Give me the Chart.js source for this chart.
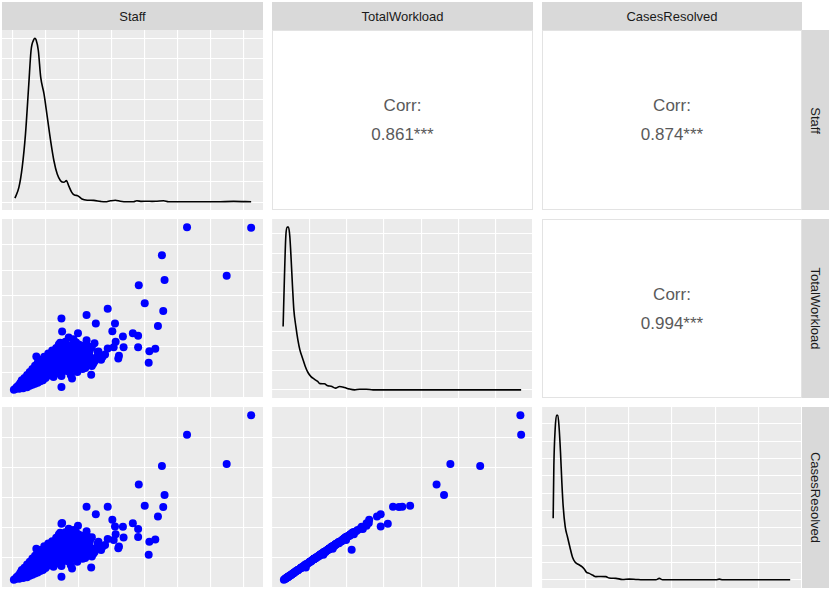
<!DOCTYPE html>
<html>
<head>
<meta charset="utf-8">
<script src="https://cdn.jsdelivr.net/npm/chart.js@4.4.0/dist/chart.umd.min.js"></script>
<style>
  body { margin: 0; background: #fff; width: 831px; height: 592px; position: relative; overflow: hidden;
         font-family: "Liberation Sans", Arial, sans-serif; }
  .strip { position: absolute; background: #d9d9d9; color: #1a1a1a; font-size: 13px;
           display: flex; align-items: center; justify-content: center; }
  .strip.right span { transform: rotate(90deg); white-space: nowrap; }
  .corr { position: absolute; box-sizing: border-box; border: 1px solid #e3e3e3; background: #fff;
          color: #5a5a5a; font-size: 17px; text-align: center; display: flex; flex-direction: column;
          justify-content: center; line-height: 29px; }
  canvas { position: absolute; }
</style>
</head>
<body>
<script>
const variables = ["Staff", "TotalWorkload", "CasesResolved"];
const corrLabels = { "0,1": "0.861***", "0,2": "0.874***", "1,2": "0.994***" };

// one value per observation, same order in all three
const staff = [
  132, 180.5, 113, 162, 115, 95.5, 100, 114, 72, 56, 37, 63, 77.5, 110, 75.5, 91, 95, 83.5, 78, 76.5,
  84, 95, 108, 103.5, 80.5, 80, 103, 59.5, 18, 37.5, 42.5, 49.5, 36, 56, 48, 58.5, 64.5, 68, 62, 60, 62, 37,
  1, 2, 3, 3, 4, 5, 5, 6, 6, 7,
  7, 8, 8, 9, 9, 10, 10, 11, 11, 12,
  12, 13, 13, 14, 14, 15, 15, 16, 16, 17,
  17, 18, 18, 19, 19, 20, 20, 21, 21, 22,
  22, 23, 23, 24, 24, 25, 26, 26, 27, 27,
  28, 28, 29, 30, 30, 31, 31, 32, 32, 33,
  33, 34, 35, 35, 36, 36, 37, 38, 38, 39,
  40, 40, 41, 42, 43, 44, 44, 45, 46, 46,
  47, 48, 49, 50, 50, 52, 53, 54, 55, 56,
  57, 58, 60, 61, 63, 65, 67, 70, 72, 45,
  25, 27, 29, 30, 31, 33, 34, 35, 36, 37,
  38, 39, 40, 41, 42, 42, 43, 44, 45, 46,
  47, 47, 48, 49, 50, 51, 52, 52, 53, 54,
  55, 56, 57, 58, 59, 48, 39, 33, 28, 24
];
const totalWorkload = [
  3195, 3185, 2645, 2245, 2160, 2060, 1705, 1555, 1600, 1475, 1405, 1310, 1310, 1260, 1155, 1120, 1070, 1055, 950, 845,
  845, 845, 815, 765, 680, 625, 540, 305, 665, 1150, 1035, 1120, 930, 895, 940, 785, 750, 655, 565, 475, 920, 65,
  10, 25, 40, 60, 80, 30, 110, 55, 150, 90,
  200, 40, 130, 70, 240, 170, 110, 60, 300, 200,
  140, 90, 360, 250, 170, 110, 420, 300, 200, 130,
  480, 350, 240, 150, 540, 400, 280, 180, 600, 450,
  320, 200, 520, 660, 370, 240, 580, 420, 720, 290,
  500, 650, 350, 780, 560, 260, 430, 700, 620, 830,
  330, 500, 760, 900, 400, 600, 280, 700, 850, 480,
  950, 620, 380, 760, 540, 880, 300, 680, 1000, 450,
  820, 600, 360, 720, 900, 520, 640, 800, 440, 980,
  580, 700, 850, 520, 640, 760, 600, 700, 820, 230,
  480, 560, 620, 420, 700, 560, 660, 420, 780, 520,
  620, 740, 820, 500, 880, 640, 720, 420, 800, 580,
  920, 680, 760, 500, 820, 620, 700, 880, 420, 560,
  740, 640, 860, 500, 620, 420, 600, 440, 380, 520
];
const casesResolved = [
  2610, 2960, 2050, 2085, 1530, 1715, 1335, 1315, 1320, 1320, 1015, 1185, 965, 1145, 1085, 1020, 920, 960, 825, 720,
  765, 775, 730, 690, 605, 575, 455, 230, 565, 1025, 925, 975, 850, 800, 860, 700, 665, 600, 500, 425, 545, 60,
  8, 22, 35, 55, 70, 28, 100, 50, 140, 85,
  185, 38, 120, 62, 225, 155, 100, 55, 280, 185,
  125, 80, 330, 230, 160, 100, 390, 275, 185, 120,
  440, 320, 220, 140, 500, 370, 260, 165, 540, 415,
  295, 185, 480, 610, 340, 220, 530, 385, 660, 265,
  460, 600, 320, 700, 510, 240, 395, 640, 560, 760,
  300, 455, 690, 820, 365, 545, 255, 640, 780, 440,
  860, 565, 345, 690, 490, 800, 275, 620, 900, 410,
  740, 545, 330, 655, 820, 470, 580, 720, 400, 880,
  525, 630, 770, 470, 580, 690, 540, 630, 740, 210,
  440, 510, 565, 385, 640, 510, 600, 385, 710, 475,
  565, 680, 750, 455, 800, 585, 655, 385, 730, 530,
  840, 620, 690, 455, 750, 565, 640, 800, 385, 510,
  670, 580, 780, 455, 565, 385, 545, 400, 345, 475
];

// kernel density curves on the diagonal (density in arbitrary units)
const staffDensX = [1.8, 4.8, 7.3, 9.8, 12.3, 14, 16, 16.9, 17.8, 19.5, 21.3, 23.8, 26.3, 28.8, 31.3, 33.8, 36.3, 38.8, 40.8, 42.5,
  44.8, 46.8, 49.3, 52.5, 56.5, 61.5, 66.5, 70.3, 74, 77.8, 81.5, 86.5, 91.5, 94, 97.8, 101.8, 105.5, 109.3, 114.3, 118,
  126.8, 142, 154.5, 167.3, 180.5];
const staffDensY = [0.21, 0.73, 1.71, 3.34, 5.77, 7.4, 7.92, 8.0, 7.92, 7.4, 6.1, 5.29, 4.15, 3.01, 2.03, 1.38, 1.06, 0.98, 1.06, 0.81,
  0.49, 0.36, 0.33, 0.17, 0.11, 0.10, 0.05, 0.03, 0.08, 0.11, 0.06, 0.03, 0.03, 0.08, 0.05, 0.06, 0.05, 0.06, 0.08, 0.03,
  0.03, 0.03, 0.03, 0.05, 0.03];
const workloadDensX = [0, 18, 36, 54, 72, 90, 108, 126, 144, 171, 198, 225, 261, 297.5, 333.5, 374, 419, 464, 495, 554,
  599, 644, 702.5, 757, 824.5, 883, 959.5, 1027, 1117, 1207, 1295, 3195];
const workloadDensY = [3.25, 5.81, 7.86, 8.34, 8.34, 7.86, 6.67, 5.3, 4.1, 3.25, 2.56, 2.05, 1.62, 1.2, 0.89, 0.68, 0.55, 0.43, 0.32, 0.31,
  0.21, 0.19, 0.09, 0.17, 0.12, 0.05, 0, 0.03, 0.03, 0, 0, 0];
const casesDensX = [0, 8.5, 25, 41.5, 58.5, 75, 91.5, 108.5, 125, 150, 179, 208.5, 241.5, 275, 316.5, 358.5, 387.5, 416.5, 450, 491.5,
  533.5, 596, 658.5, 700, 783.5, 866.5, 950, 1033.5, 1116.5, 1200, 1283.5, 1325, 1366.5, 2033.5, 2075, 2116.5, 2960];
const casesDensY = [3.55, 6.57, 8.71, 9.49, 9.49, 8.71, 7.35, 5.6, 4.23, 3.06, 2.47, 1.89, 1.3, 1.01, 0.88, 0.76, 0.62, 0.43, 0.37, 0.27,
  0.18, 0.19, 0.18, 0.1, 0.08, 0.02, 0.04, 0.02, 0, 0, 0, 0.08, 0, 0, 0.04, 0, 0];

const values = [staff, totalWorkload, casesResolved];
const densities = [[staffDensX, staffDensY], [workloadDensX, workloadDensY], [casesDensX, casesDensY]];
const gridStep = [25, 500, 500];

// panel geometry
const colX = [2, 272, 542], colW = [261, 261, 260];
const rowY = [30, 219, 407], rowH = [180, 179, 181];

const expand = (arr) => {
  const lo = Math.min(...arr), hi = Math.max(...arr), pad = (hi - lo) * 0.05;
  return [lo - pad, hi + pad];
};

const panelBg = {
  id: "panelBg",
  beforeDraw(chart) {
    const { ctx, chartArea: a } = chart;
    ctx.save();
    ctx.fillStyle = "#ebebeb";
    ctx.fillRect(a.left, a.top, a.width, a.height);
    ctx.restore();
  },
};

const axis = (lim, step) => ({
  type: "linear",
  min: lim[0],
  max: lim[1],
  ticks: { display: false, stepSize: step, includeBounds: false },
  grid: { color: "#ffffff", lineWidth: 1.1, drawTicks: false },
  border: { display: false },
});

function addDiv(cls, x, y, w, h, html) {
  const d = document.createElement("div");
  d.className = cls;
  Object.assign(d.style, { left: x + "px", top: y + "px", width: w + "px", height: h + "px" });
  d.innerHTML = html;
  document.body.appendChild(d);
}

function makeChart(r, c, datasets, xLim, yLim, xStep, yStep) {
  const cv = document.createElement("canvas");
  cv.width = colW[c];
  cv.height = rowH[r];
  Object.assign(cv.style, { left: colX[c] + "px", top: rowY[r] + "px", width: colW[c] + "px", height: rowH[r] + "px" });
  document.body.appendChild(cv);
  new Chart(cv.getContext("2d"), {
    type: "scatter",
    data: { datasets },
    plugins: [panelBg],
    options: {
      responsive: false,
      animation: false,
      events: [],
      layout: { padding: 0, autoPadding: false },
      plugins: { legend: { display: false }, tooltip: { enabled: false } },
      scales: { x: axis(xLim, xStep), y: axis(yLim, yStep) },
    },
  });
}

// strips
variables.forEach((v, i) => {
  addDiv("strip", colX[i], 2, colW[i], 28, "<span>" + v + "</span>");
  addDiv("strip right", 802, rowY[i], 27, rowH[i], "<span>" + v + "</span>");
});

for (let r = 0; r < 3; r++) {
  for (let c = 0; c < 3; c++) {
    if (c > r) {
      addDiv("corr", colX[c], rowY[r], colW[c], rowH[r],
        "<div>Corr:</div><div>" + corrLabels[r + "," + c] + "</div>");
    } else if (c === r) {
      const [dx, dy] = densities[c];
      const lo = Math.min(...dy), hi = Math.max(...dy), pad = (hi - lo) * 0.05;
      makeChart(r, c, [{
        data: dx.map((x, i) => ({ x, y: dy[i] })),
        showLine: true,
        borderColor: "#000000",
        borderWidth: 1.6,
        pointRadius: 0,
        cubicInterpolationMode: "monotone",
      }], expand(values[c]), [lo - pad, hi + pad], gridStep[c], 1);
    } else {
      const xs = values[c], ys = values[r];
      makeChart(r, c, [{
        data: xs.map((x, i) => ({ x, y: ys[i] })),
        pointRadius: 4,
        pointBackgroundColor: "#0000ff",
        pointBorderWidth: 0,
      }], expand(xs), expand(ys), gridStep[c], gridStep[r]);
    }
  }
}
</script>
</body>
</html>
